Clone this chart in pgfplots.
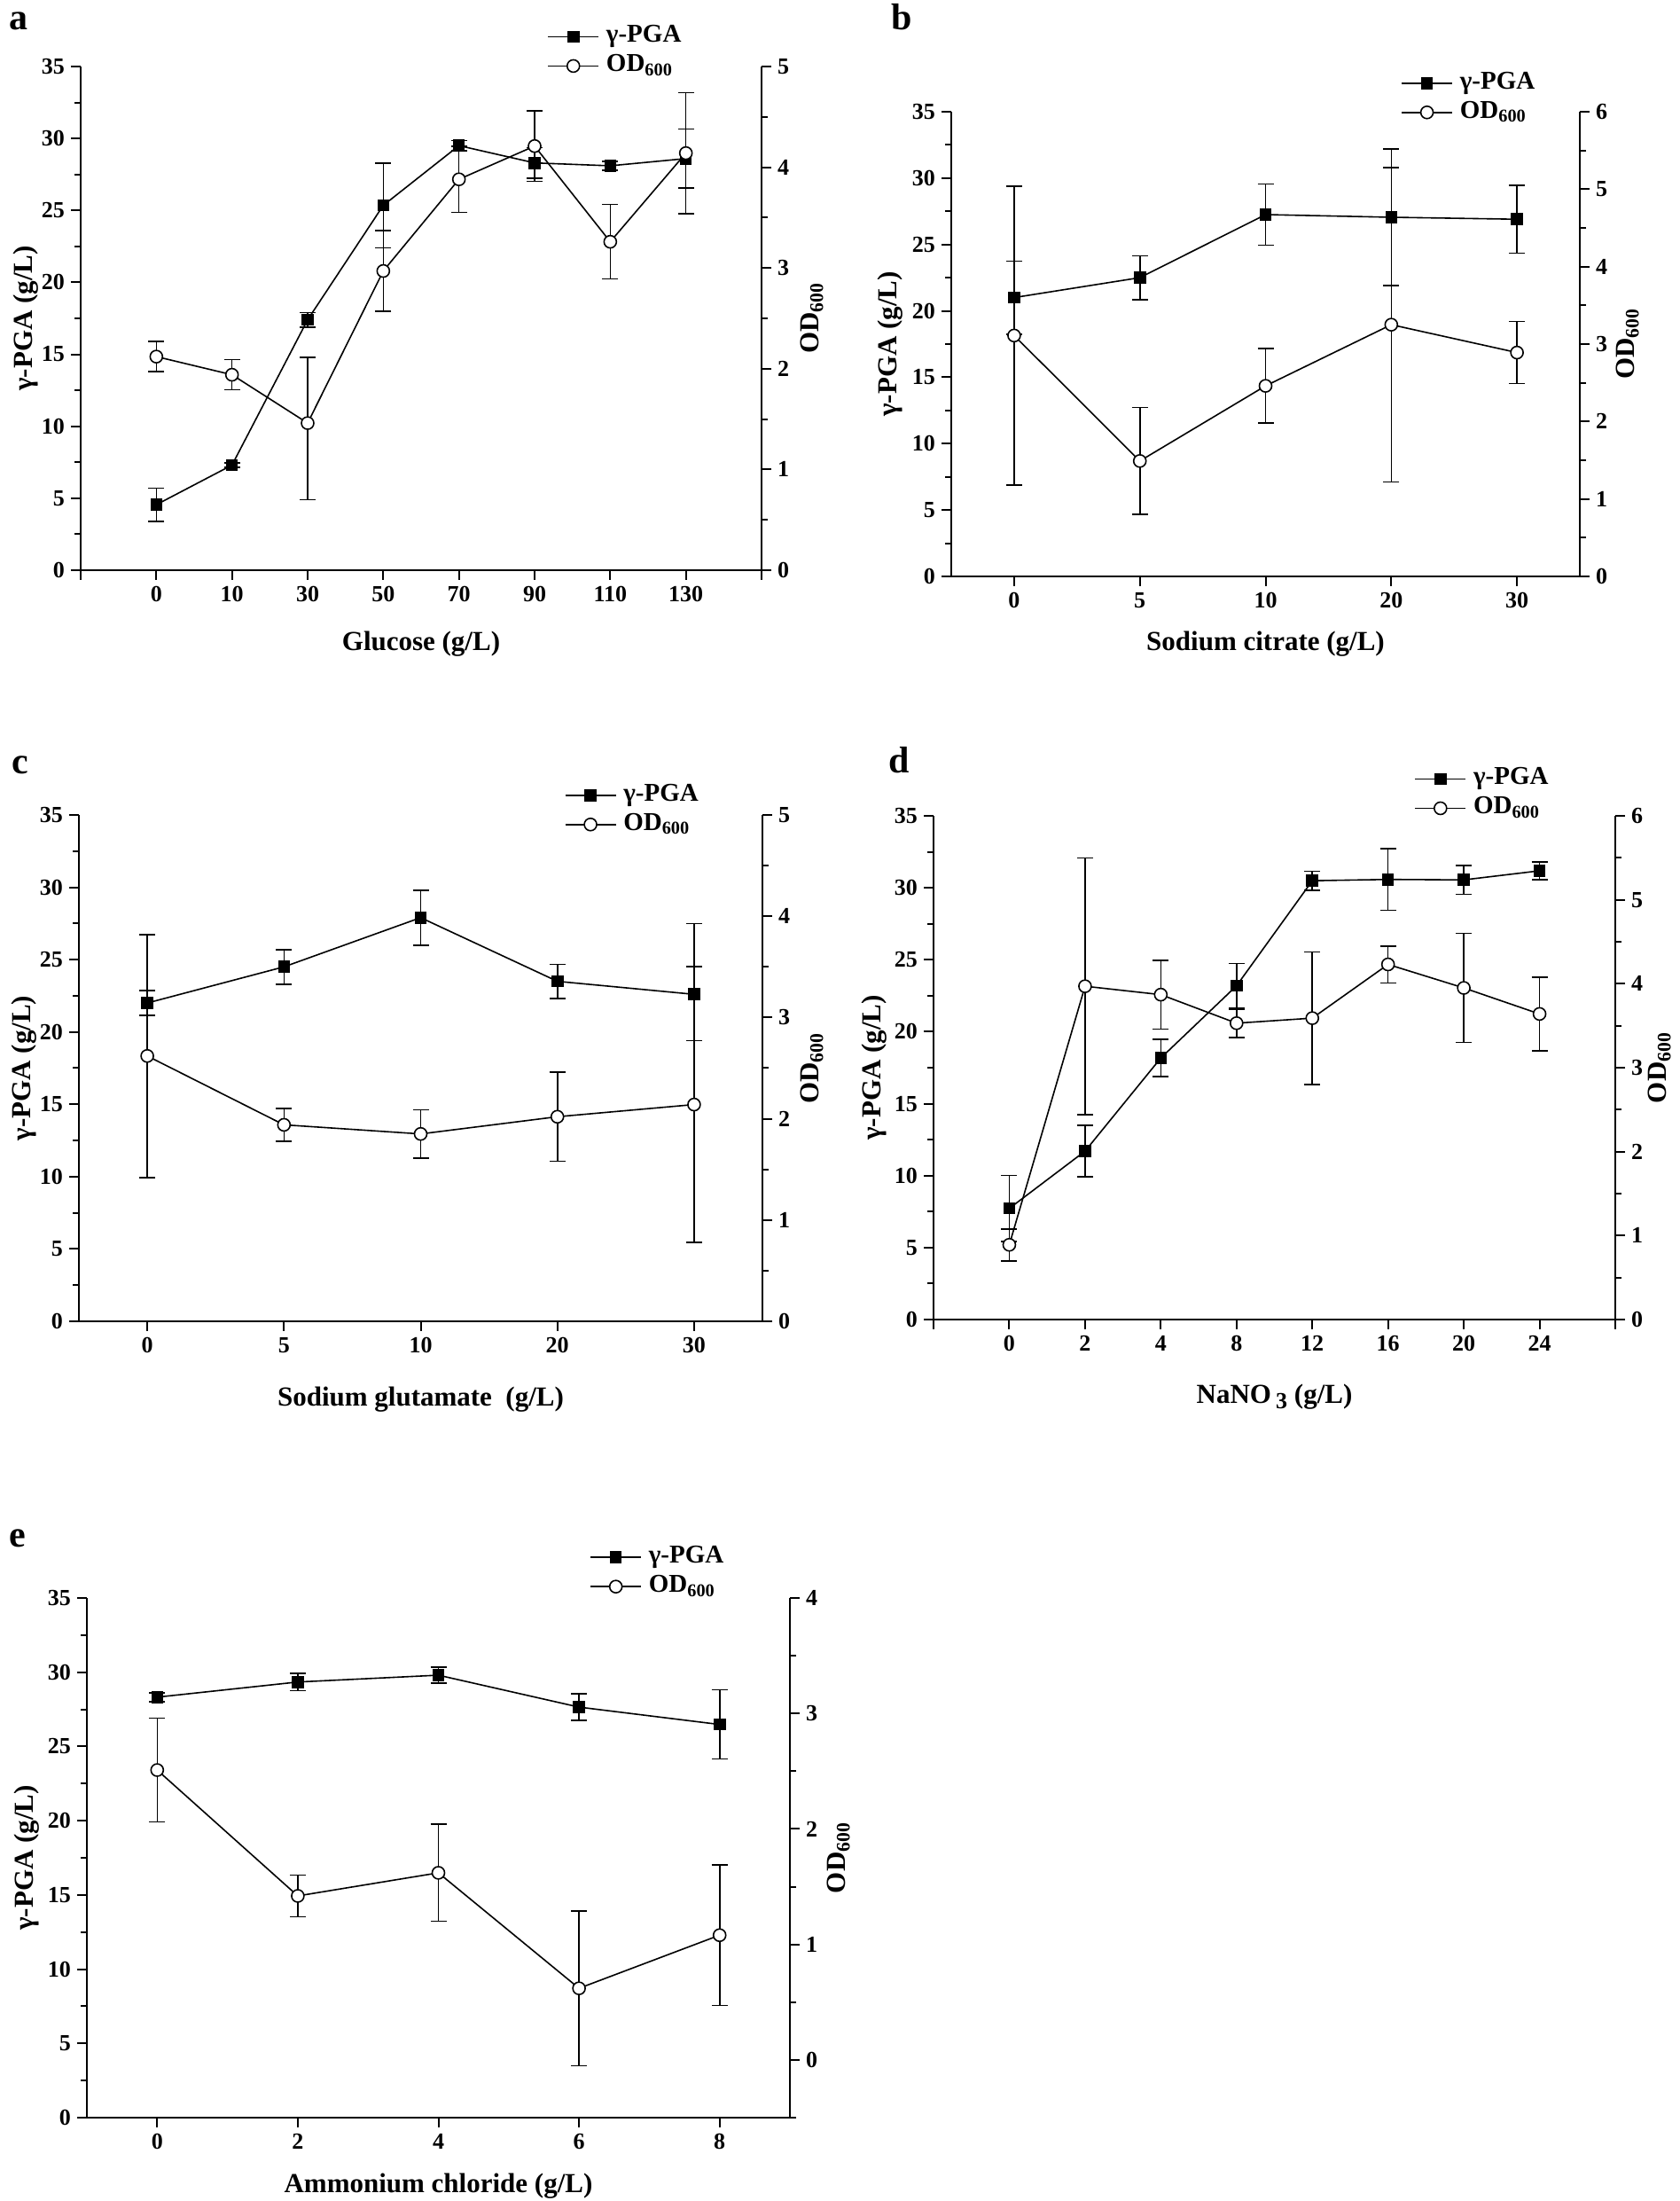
\documentclass[border=0pt]{standalone}
\usepackage{fontspec}
\setmainfont{Liberation Serif}
\usepackage{pgfplots}
\pgfplotsset{compat=1.18}

% 1 px of the reference = 0.5pt
\pgfplotsset{
  base/.style={scale only axis, tick align=outside,
    axis line style={line width=1.2pt,-}, x axis line style={-}, y axis line style={-},
    tick style={black, line width=1pt}, major tick length=5.5pt, minor tick length=3.5pt,
    ticklabel style={font=\fontsize{13}{15}\selectfont\bfseries},
    /pgf/number format/assume math mode=true,
    label style={font=\fontsize{15.5}{18}\selectfont\bfseries}},
  lefty/.style={base, axis x line*=bottom, axis y line*=left,
    ymin=0, ymax=35, ytick={0,5,...,35}, minor ytick={2.5,7.5,...,32.5},
    ylabel={γ-PGA (g/L)}},
  righty/.style={base, axis x line=none, axis y line*=right,
    ymin=0, ylabel={OD\textsubscript{600}},
    legend cell align=left,
    legend style={draw=none, fill=none, anchor=west, inner sep=0pt,
      font=\fontsize{14.5}{16}\selectfont\bfseries,
      nodes={inner xsep=4pt, inner ysep=0.5pt, text height=9.5pt, text depth=3pt},
      row sep=3pt},
    legend image code/.code={\draw[mark repeat=2,mark phase=2,#1]
      plot coordinates {(0cm,0cm) (0.5cm,0cm) (1cm,0cm)};}},
  gpline/.style={black, line width=0.8pt, mark=square*, mark size=3pt,
    mark options={solid, fill=black}},
  odline/.style={black, line width=0.8pt, mark=*, mark size=3.5pt,
    mark options={solid, fill=white, draw=black}},
  errs/.style={/pgfplots/error bars/y dir=both, /pgfplots/error bars/y explicit,
    /pgfplots/error bars/error bar style={black, solid, line width=0.8pt},
    /pgfplots/error bars/error mark options={black, rotate=90, line width=0.8pt, mark size=4.5pt}},
  gp/.style={gpline, errs},
  od/.style={odline, errs},
}

\begin{document}
\begin{tikzpicture}
\useasboundingbox (0,0) rectangle (947pt,1241pt);

\node[anchor=base west, font=\fontsize{21}{21}\selectfont\bfseries] at (1.5pt,1224pt) {a};
\node[anchor=base west, font=\fontsize{21}{21}\selectfont\bfseries] at (499pt,1224pt) {b};
\node[anchor=base west, font=\fontsize{21}{21}\selectfont\bfseries] at (3pt,804.5pt) {c};
\node[anchor=base west, font=\fontsize{21}{21}\selectfont\bfseries] at (497.5pt,805pt) {d};
\node[anchor=base west, font=\fontsize{21}{21}\selectfont\bfseries] at (1.5pt,368.5pt) {e};

% ---------- a: glucose ----------
\begin{axis}[lefty, at={(45.5pt,919.5pt)}, anchor=south west, width=384pt, height=284pt,
  xmin=-1, xmax=8, xtick={0,...,7}, xticklabels={0,10,30,50,70,90,110,130},
  extra x ticks={-1,8}, extra x tick labels={},
  xlabel={Glucose (g/L)},
  xlabel style={at={([yshift=-41.5pt]axis description cs:0.5,0)}, anchor=center},
  ylabel style={at={([xshift=-31pt]axis description cs:0,0.5)}, anchor=center}]
\addplot[gp] coordinates {
  (0,4.55) +- (0,1.15) (1,7.3) +- (0,0.15) (2,17.4) +- (0,0.5) (3,25.35) +- (0,2.95)
  (4,29.5) +- (0,0.35) (5,28.3) +- (0,1.05) (6,28.1) +- (0,0.3) (7,28.6) +- (0,2.05)};
\end{axis}
\begin{axis}[righty, at={(45.5pt,919.5pt)}, anchor=south west, width=384pt, height=284pt,
  xmin=-1, xmax=8, ymax=5, ytick={0,1,...,5}, minor ytick={0.5,1.5,...,4.5},
  ylabel style={at={([xshift=28.5pt]axis description cs:1,0.5)}, anchor=center},
  legend style={at={(axis description cs:0.685,1.03)}}]
\addlegendimage{gpline}
\addlegendentry{γ-PGA}
\addplot[od] coordinates {
  (0,2.12) +- (0,0.15) (1,1.94) +- (0,0.15) (2,1.46) += (0,0.65) -= (0,0.76) (3,2.97) +- (0,0.4)
  (4,3.88) +- (0,0.33) (5,4.21) +- (0,0.35) (6,3.26) +- (0,0.37) (7,4.14) +- (0,0.6)};
\addlegendentry{OD\textsubscript{600}}
\end{axis}

% ---------- b: sodium citrate ----------
\begin{axis}[lefty, at={(536.5pt,916pt)}, anchor=south west, width=354.5pt, height=262pt,
  xmin=-0.5, xmax=4.5, xtick={0,...,4}, xticklabels={0,5,10,20,30},
  xlabel={Sodium citrate (g/L)},
  xlabel style={at={([yshift=-38pt]axis description cs:0.5,0)}, anchor=center},
  ylabel style={at={([xshift=-34.5pt]axis description cs:0,0.5)}, anchor=center}]
\addplot[gp] coordinates {
  (0,21.0) +- (0,2.75) (1,22.5) +- (0,1.65) (2,27.25) +- (0,2.3) (3,27.05) +- (0,5.15) (4,26.9) +- (0,2.55)};
\end{axis}
\begin{axis}[righty, at={(536.5pt,916pt)}, anchor=south west, width=354.5pt, height=262pt,
  xmin=-0.5, xmax=4.5, ymax=6, ytick={0,1,...,6}, minor ytick={0.5,1.5,...,5.5},
  ylabel style={at={([xshift=27pt]axis description cs:1,0.5)}, anchor=center},
  legend style={at={(axis description cs:0.715,1.03)}}]
\addlegendimage{gpline}
\addlegendentry{γ-PGA}
\addplot[od] coordinates {
  (0,3.11) +- (0,1.93) (1,1.49) +- (0,0.69) (2,2.46) +- (0,0.48) (3,3.25) +- (0,2.03) (4,2.89) +- (0,0.4)};
\addlegendentry{OD\textsubscript{600}}
\end{axis}

% ---------- c: sodium glutamate ----------
\begin{axis}[lefty, at={(44.5pt,496pt)}, anchor=south west, width=385.5pt, height=285.5pt,
  xmin=-0.5, xmax=4.5, xtick={0,...,4}, xticklabels={0,5,10,20,30},
  xlabel={Sodium glutamate\ \ (g/L)},
  xlabel style={at={([yshift=-44pt]axis description cs:0.5,0)}, anchor=center},
  ylabel style={at={([xshift=-31pt]axis description cs:0,0.5)}, anchor=center}]
\addplot[gp] coordinates {
  (0,22.0) +- (0,0.85) (1,24.5) +- (0,1.2) (2,27.9) +- (0,1.9) (3,23.5) +- (0,1.18)
  (4,22.6) += (0,4.9) -= (0,3.2)};
\end{axis}
\begin{axis}[righty, at={(44.5pt,496pt)}, anchor=south west, width=385.5pt, height=285.5pt,
  xmin=-0.5, xmax=4.5, ymax=5, ytick={0,1,...,5}, minor ytick={0.5,1.5,...,4.5},
  ylabel style={at={([xshift=28pt]axis description cs:1,0.5)}, anchor=center},
  legend style={at={(axis description cs:0.71,1.01)}}]
\addlegendimage{gpline}
\addlegendentry{γ-PGA}
\addplot[od] coordinates {
  (0,2.62) +- (0,1.2) (1,1.94) +- (0,0.16) (2,1.85) +- (0,0.24) (3,2.02) +- (0,0.44) (4,2.14) +- (0,1.36)};
\addlegendentry{OD\textsubscript{600}}
\end{axis}

% ---------- d: NaNO3 ----------
\begin{axis}[lefty, at={(526.5pt,497pt)}, anchor=south west, width=384.5pt, height=284pt,
  xmin=-1, xmax=8, xtick={0,...,7}, xticklabels={0,2,4,8,12,16,20,24},
  extra x ticks={-1,8}, extra x tick labels={},
  xlabel={NaNO\,\raisebox{-0.4ex}{\fontsize{13}{13}\selectfont 3} (g/L)},
  xlabel style={at={([yshift=-43.5pt]axis description cs:0.5,0)}, anchor=center},
  ylabel style={at={([xshift=-33.5pt]axis description cs:0,0.5)}, anchor=center}]
\addplot[gp] coordinates {
  (0,7.72) +- (0,2.3) (1,11.7) +- (0,1.78) (2,18.17) +- (0,1.3) (3,23.19) +- (0,1.55)
  (4,30.49) +- (0,0.67) (5,30.58) +- (0,2.15) (6,30.55) +- (0,1.0) (7,31.18) +- (0,0.6)};
\end{axis}
\begin{axis}[righty, at={(526.5pt,497pt)}, anchor=south west, width=384.5pt, height=284pt,
  xmin=-1, xmax=8, ymax=6, ytick={0,1,...,6}, minor ytick={0.5,1.5,...,5.5},
  ylabel style={at={([xshift=25pt]axis description cs:1,0.5)}, anchor=center},
  legend style={at={(axis description cs:0.705,1.044)}}]
\addlegendimage{gpline}
\addlegendentry{γ-PGA}
\addplot[od] coordinates {
  (0,0.89) +- (0,0.19) (1,3.97) +- (0,1.53) (2,3.87) +- (0,0.41) (3,3.53) +- (0,0.17)
  (4,3.59) +- (0,0.79) (5,4.23) +- (0,0.22) (6,3.95) +- (0,0.65) (7,3.64) +- (0,0.44)};
\addlegendentry{OD\textsubscript{600}}
\end{axis}

% ---------- e: ammonium chloride ----------
\begin{axis}[lefty, at={(49pt,47pt)}, anchor=south west, width=396.5pt, height=293pt,
  xmin=-1, xmax=9, xtick={0,2,4,6,8},
  xlabel={Ammonium chloride (g/L)},
  xlabel style={at={([yshift=-38.5pt]axis description cs:0.5,0)}, anchor=center},
  ylabel style={at={([xshift=-34pt]axis description cs:0,0.5)}, anchor=center}]
\addplot[gp] coordinates {
  (0,28.32) +- (0,0.3) (2,29.34) +- (0,0.57) (4,29.8) +- (0,0.55) (6,27.65) +- (0,0.9) (8,26.48) +- (0,2.33)};
\end{axis}
\begin{axis}[righty, at={(49pt,47pt)}, anchor=south west, width=396.5pt, height=293pt,
  xmin=-1, xmax=9, ymin=-0.5, ymax=4, ytick={0,1,...,4}, minor ytick={-0.5,0.5,...,3.5},
  ylabel style={at={([xshift=27.5pt]axis description cs:1,0.5)}, anchor=center},
  legend style={at={(axis description cs:0.715,1.05)}}]
\addlegendimage{gpline}
\addlegendentry{γ-PGA}
\addplot[od] coordinates {
  (0,2.51) +- (0,0.45) (2,1.42) +- (0,0.18) (4,1.62) +- (0,0.42) (6,0.62) +- (0,0.67) (8,1.08) +- (0,0.61)};
\addlegendentry{OD\textsubscript{600}}
\end{axis}
\end{tikzpicture}
\end{document}
